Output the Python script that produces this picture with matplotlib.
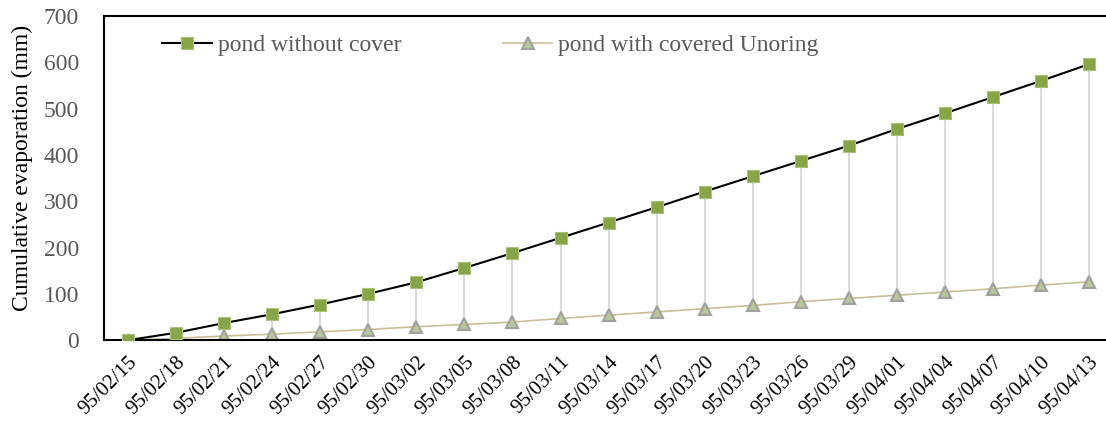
import matplotlib.pyplot as plt

plt.rcParams["font.family"] = ["Liberation Serif", "DejaVu Serif"]

dates = ["95/02/15", "95/02/18", "95/02/21", "95/02/24", "95/02/27", "95/02/30",
         "95/03/02", "95/03/05", "95/03/08", "95/03/11", "95/03/14", "95/03/17",
         "95/03/20", "95/03/23", "95/03/26", "95/03/29", "95/04/01", "95/04/04",
         "95/04/07", "95/04/10", "95/04/13"]
without_cover = [0, 16, 37, 56, 77, 100, 125, 156, 188, 221, 254, 287,
                 321, 354, 387, 420, 456, 490, 525, 560, 596]
with_cover = [0, 4, 9, 13, 18, 23, 29, 34, 39, 47, 54, 61,
              68, 75, 83, 90, 97, 104, 111, 119, 126]

fig = plt.figure(figsize=(11.06, 4.21), dpi=100)
ax = fig.add_axes([0.094, 0.192, 0.906, 0.770])

x = list(range(len(dates)))

# drop lines between the two series
ax.vlines(x, with_cover, without_cover, color="#dadada", lw=1.5, zorder=1)

ax.plot(x, without_cover, color="black", lw=1.5, marker="s", ms=9,
        mfc="#87a546", mec="#a9c47a", mew=0.8, label="pond without cover", zorder=3)
ax.plot(x, with_cover, color="#c9bf95", lw=1.2, marker="^", ms=9,
        mfc="#b7c79a", mec="#a0a0a0", mew=1.5, label="pond with covered Unoring", zorder=2)

ax.set_xlim(-0.5, 20.35)
ax.set_ylim(0, 700)
ax.set_yticks(range(0, 701, 100))
ax.set_xticks(x)
ax.set_xticklabels(dates, rotation=45, ha="right", va="top", rotation_mode="anchor", fontsize=15)
ax.tick_params(axis="y", length=0, labelsize=17, labelcolor="#595959", pad=18)
ax.tick_params(axis="x", length=0, pad=9)
ax.set_ylabel("Cumulative evaporation (mm)", fontsize=17)
ax.yaxis.set_label_coords(-0.071, 0.53)

for side in ["left", "top", "bottom"]:
    ax.spines[side].set_linewidth(1.5)
    ax.spines[side].set_color("black")
ax.spines["right"].set_visible(False)

leg = ax.legend(loc="upper left", bbox_to_anchor=(0.037, 1.008), ncol=2, frameon=False,
                fontsize=17, handlelength=2.1, columnspacing=4.3, handletextpad=0.25)
for t in leg.get_texts():
    t.set_color("#595959")

fig.savefig("out.png", dpi=100)
